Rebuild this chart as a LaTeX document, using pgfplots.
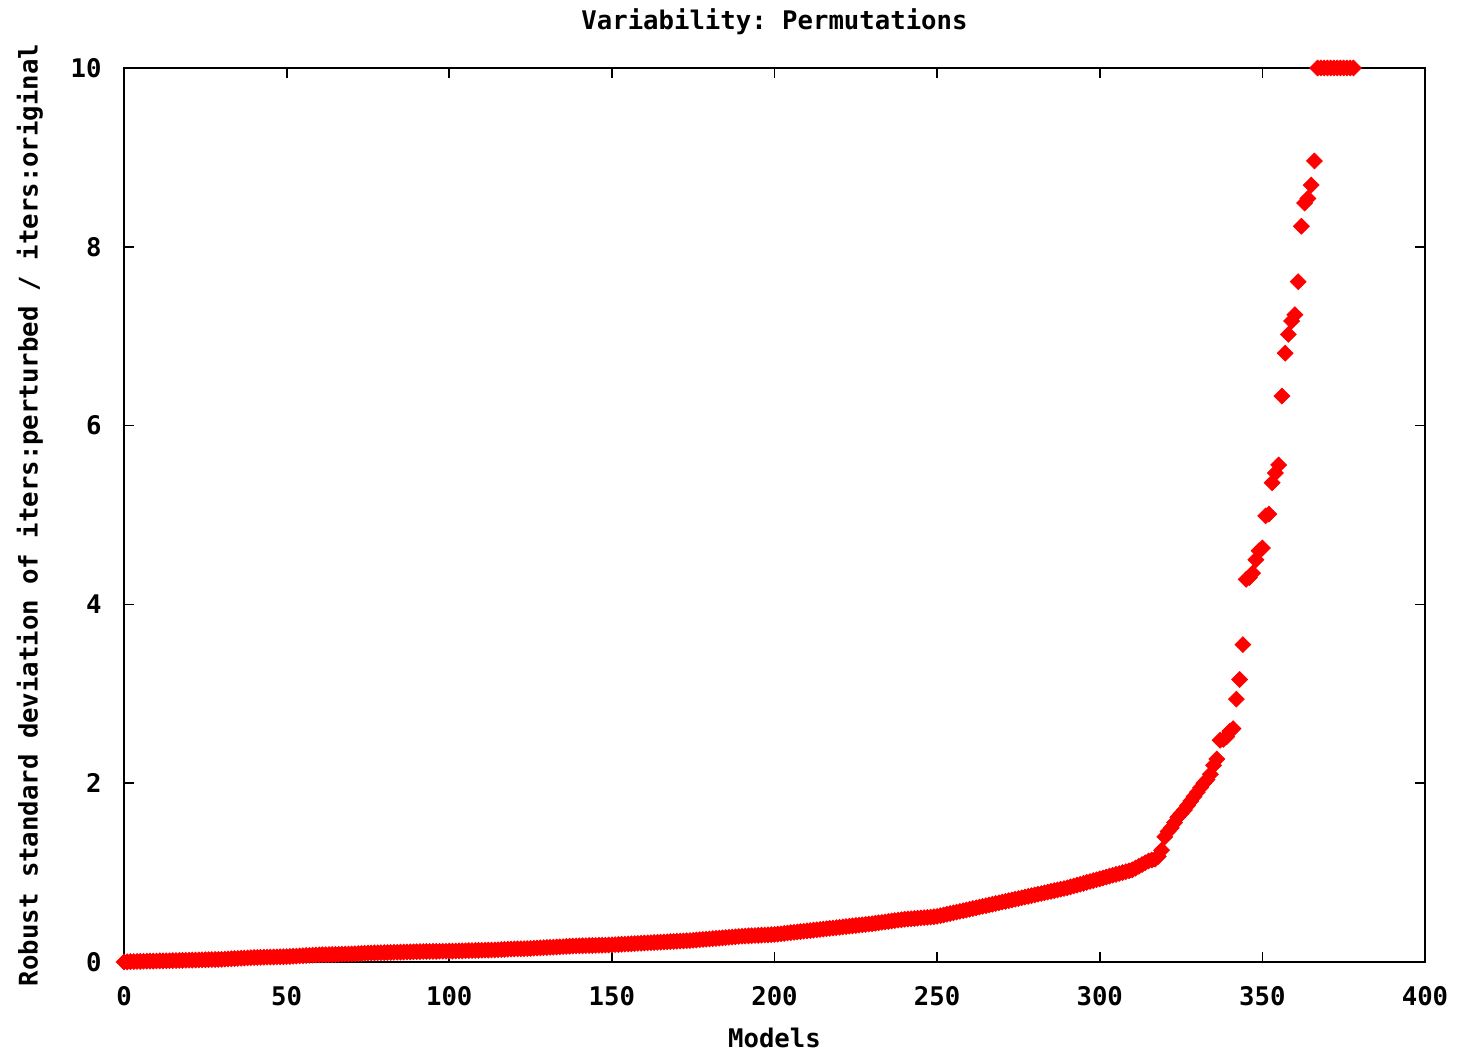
\documentclass[border=0pt]{standalone}
\usepackage{pgfplots}
\pgfplotsset{compat=1.18}
\usepackage{pgfplotstable}
\usepackage{fontspec}
\setmainfont{DejaVu Sans Mono}
\frenchspacing
\pgfplotstableread{
x y
0 0.000
1 0.002
2 0.004
3 0.005
4 0.006
5 0.007
6 0.008
7 0.009
8 0.010
9 0.010
10 0.011
11 0.012
12 0.012
13 0.013
14 0.014
15 0.015
16 0.016
17 0.017
18 0.018
19 0.019
20 0.020
21 0.021
22 0.022
23 0.023
24 0.024
25 0.025
26 0.026
27 0.027
28 0.028
29 0.029
30 0.030
31 0.032
32 0.034
33 0.036
34 0.038
35 0.040
36 0.042
37 0.044
38 0.046
39 0.048
40 0.050
41 0.051
42 0.052
43 0.053
44 0.054
45 0.055
46 0.056
47 0.057
48 0.058
49 0.059
50 0.060
51 0.062
52 0.064
53 0.066
54 0.068
55 0.070
56 0.072
57 0.074
58 0.076
59 0.078
60 0.080
61 0.081
62 0.082
63 0.083
64 0.084
65 0.085
66 0.086
67 0.087
68 0.088
69 0.089
70 0.090
71 0.092
72 0.094
73 0.096
74 0.098
75 0.100
76 0.101
77 0.102
78 0.103
79 0.104
80 0.105
81 0.106
82 0.107
83 0.108
84 0.109
85 0.110
86 0.111
87 0.112
88 0.113
89 0.114
90 0.115
91 0.116
92 0.117
93 0.118
94 0.118
95 0.119
96 0.119
97 0.120
98 0.120
99 0.120
100 0.121
101 0.122
102 0.123
103 0.124
104 0.125
105 0.126
106 0.127
107 0.128
108 0.129
109 0.130
110 0.131
111 0.132
112 0.133
113 0.134
114 0.135
115 0.137
116 0.139
117 0.141
118 0.143
119 0.145
120 0.146
121 0.147
122 0.148
123 0.149
124 0.150
125 0.152
126 0.154
127 0.156
128 0.158
129 0.160
130 0.162
131 0.164
132 0.166
133 0.168
134 0.170
135 0.172
136 0.174
137 0.176
138 0.178
139 0.180
140 0.181
141 0.182
142 0.183
143 0.184
144 0.185
145 0.186
146 0.187
147 0.188
148 0.189
149 0.190
150 0.192
151 0.194
152 0.196
153 0.198
154 0.200
155 0.202
156 0.204
157 0.206
158 0.208
159 0.210
160 0.212
161 0.214
162 0.216
163 0.218
164 0.220
165 0.222
166 0.224
167 0.226
168 0.228
169 0.230
170 0.232
171 0.234
172 0.236
173 0.238
174 0.240
175 0.243
176 0.246
177 0.249
178 0.252
179 0.255
180 0.258
181 0.261
182 0.264
183 0.267
184 0.270
185 0.273
186 0.276
187 0.279
188 0.282
189 0.285
190 0.288
191 0.290
192 0.292
193 0.294
194 0.296
195 0.298
196 0.300
197 0.302
198 0.304
199 0.306
200 0.308
201 0.312
202 0.316
203 0.320
204 0.324
205 0.328
206 0.332
207 0.336
208 0.340
209 0.344
210 0.348
211 0.352
212 0.356
213 0.360
214 0.364
215 0.368
216 0.372
217 0.376
218 0.380
219 0.384
220 0.388
221 0.392
222 0.396
223 0.400
224 0.404
225 0.408
226 0.412
227 0.416
228 0.420
229 0.424
230 0.428
231 0.433
232 0.438
233 0.443
234 0.448
235 0.453
236 0.458
237 0.463
238 0.468
239 0.473
240 0.478
241 0.481
242 0.484
243 0.487
244 0.490
245 0.493
246 0.496
247 0.499
248 0.502
249 0.506
250 0.510
251 0.518
252 0.526
253 0.534
254 0.542
255 0.550
256 0.558
257 0.566
258 0.574
259 0.582
260 0.590
261 0.598
262 0.606
263 0.614
264 0.622
265 0.630
266 0.638
267 0.646
268 0.654
269 0.662
270 0.670
271 0.678
272 0.686
273 0.694
274 0.702
275 0.710
276 0.718
277 0.726
278 0.734
279 0.742
280 0.750
281 0.758
282 0.766
283 0.774
284 0.782
285 0.790
286 0.798
287 0.806
288 0.814
289 0.822
290 0.830
291 0.840
292 0.850
293 0.860
294 0.870
295 0.880
296 0.890
297 0.900
298 0.910
299 0.920
300 0.930
301 0.940
302 0.950
303 0.960
304 0.970
305 0.980
306 0.990
307 1.000
308 1.010
309 1.020
310 1.030
311 1.050
312 1.070
313 1.090
314 1.110
315 1.130
316 1.140
317 1.150
318 1.180
319 1.250
320 1.400
321 1.460
322 1.500
323 1.560
324 1.620
325 1.660
326 1.700
327 1.750
328 1.800
329 1.850
330 1.900
331 1.950
332 2.000
333 2.040
334 2.100
335 2.200
336 2.270
337 2.480
338 2.490
339 2.520
340 2.580
341 2.610
342 2.940
343 3.160
344 3.550
345 4.280
346 4.300
347 4.350
348 4.500
349 4.600
350 4.630
351 4.990
352 5.010
353 5.360
354 5.470
355 5.560
356 6.330
357 6.810
358 7.020
359 7.170
360 7.240
361 7.610
362 8.230
363 8.490
364 8.540
365 8.690
366 8.960
367 10
368 10
369 10
370 10
371 10
372 10
373 10
374 10
375 10
376 10
377 10
378 10
}\datatable
\begin{document}
\begin{tikzpicture}
\path[use as bounding box] (-1.24,-0.90) rectangle (13.34,9.62);
\begin{axis}[
  scale only axis,
  width=13.01cm, height=8.94cm,
  at={(0,0)}, anchor=south west,
  xmin=0, xmax=400, ymin=0, ymax=10,
  xtick={0,50,...,400}, ytick={0,2,...,10},
  tick pos=both, tick align=inside,
  major tick length=0.1cm,
  axis line style={line width=0.5pt},
  every tick/.style={black, line width=0.5pt},
  /pgf/number format/assume math mode=true,
  ticklabel style={font=\fontsize{7.3}{8}\selectfont\bfseries},
  xticklabel style={yshift=-0.12cm},
  yticklabel style={xshift=-0.1cm},
  title={Variability: Permutations},
  title style={at={(axis description cs:0.5,1.028)}, anchor=center, font=\fontsize{7.3}{8}\selectfont\bfseries},
  xlabel={Models},
  xlabel style={at={(axis description cs:0.5,-0.085)}, anchor=center, font=\fontsize{7.3}{8}\selectfont\bfseries},
  ylabel={Robust standard deviation of iters:perturbed / iters:original},
  ylabel style={at={(axis description cs:-0.0723,0.5)}, anchor=center, font=\fontsize{7.3}{8}\selectfont\bfseries},
  clip=false,
]
\addplot[only marks, mark=square*, mark size=1.6pt, color=red,
  mark options={rotate=45, draw=red, fill=red, line width=0.2pt}] table[x=x, y=y] {\datatable};
\end{axis}
\end{tikzpicture}
\end{document}
